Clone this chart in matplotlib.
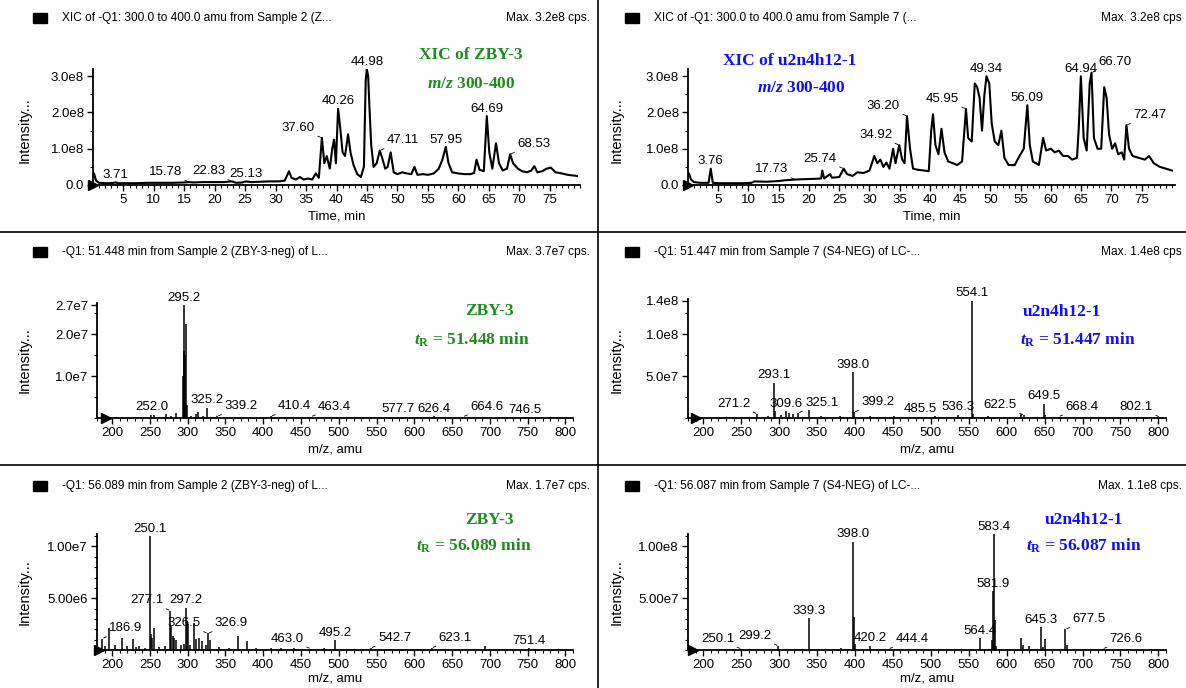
import numpy as np
import matplotlib
matplotlib.use('Agg')
import matplotlib.pyplot as plt
from matplotlib.patches import Rectangle
from matplotlib.lines import Line2D

plt.rcParams['font.family'] = ['Liberation Sans', 'DejaVu Sans']
plt.rcParams['mathtext.fontset'] = 'custom'
plt.rcParams['mathtext.rm'] = 'Liberation Serif:bold'
plt.rcParams['mathtext.it'] = 'Liberation Serif:italic:bold'
plt.rcParams['mathtext.bf'] = 'Liberation Serif:bold'

# ---------------- data ----------------
# XIC, Sample 2 (ZBY-3), intensity in 1e8 cps
tl_time = [0.0, 0.2, 0.5, 1.0, 2.0, 3.0, 3.71, 4.2, 5.5, 7.0, 9.0, 11.0, 13.0, 15.0, 15.78, 16.5,
           18.0, 20.0, 21.5, 22.83, 23.5, 24.5, 25.13, 26.0, 27.5, 29.0, 30.5, 31.5, 32.2, 32.6,
           33.3, 34.0, 34.6, 35.3, 36.0, 36.6, 37.1, 37.6, 38.0, 38.4, 38.9, 39.3, 39.6, 39.9,
           40.26, 40.6, 41.0, 41.4, 41.9, 42.3, 42.8, 43.4, 44.0, 44.5, 44.8, 44.98, 45.2, 45.4,
           45.7, 46.1, 46.6, 47.11, 47.5, 48.0, 48.4, 48.9, 49.4, 50.0, 50.8, 51.5, 52.3, 52.8,
           53.3, 54.2, 55.0, 56.0, 56.8, 57.4, 57.95, 58.4, 59.0, 60.0, 61.0, 62.0, 62.6, 63.0,
           63.5, 64.2, 64.69, 65.1, 65.6, 66.2, 66.7, 67.3, 68.0, 68.53, 69.0, 69.8, 70.5, 71.3,
           72.0, 72.5, 73.0, 73.8, 74.5, 75.2, 76.0, 77.0, 78.0, 79.5]
tl_int = [0.35, 0.30, 0.12, 0.06, 0.05, 0.05, 0.07, 0.05, 0.05, 0.05, 0.06, 0.06, 0.06, 0.07, 0.08, 0.07,
          0.08, 0.08, 0.08, 0.10, 0.06, 0.07, 0.10, 0.08, 0.09, 0.10, 0.10, 0.12, 0.38, 0.20,
          0.15, 0.22, 0.15, 0.18, 0.15, 0.32, 0.20, 1.30, 0.60, 0.80, 0.45, 1.00, 1.25, 0.60,
          2.10, 1.60, 0.90, 0.80, 1.40, 0.90, 0.55, 0.30, 0.22, 0.50, 2.90, 3.20, 3.00, 2.20,
          1.10, 0.50, 0.60, 0.95, 0.75, 0.45, 0.50, 0.90, 0.35, 0.30, 0.35, 0.32, 0.30, 0.50,
          0.28, 0.30, 0.28, 0.32, 0.45, 0.70, 1.05, 0.60, 0.35, 0.32, 0.30, 0.30, 0.33, 0.70,
          0.42, 0.38, 1.90, 0.90, 0.45, 1.15, 0.60, 0.40, 0.45, 0.85, 0.60, 0.45, 0.38, 0.35,
          0.40, 0.52, 0.35, 0.38, 0.45, 0.48, 0.35, 0.32, 0.28, 0.25]

# XIC, Sample 7 (u2n4h12-1), intensity in 1e8 cps
tr_time = [0.0, 0.2, 0.5, 1.0, 2.0, 3.4, 3.76, 4.1, 5.0, 7.0, 9.0, 10.5, 11.0, 13.0, 15.0, 16.0,
           17.73, 19.0, 21.0, 22.0, 22.2, 22.5, 23.5, 23.8, 25.0, 25.74, 26.3, 27.2, 28.0, 29.0,
           30.0, 30.8, 31.3, 31.8, 32.3, 32.8, 33.3, 33.9, 34.3, 34.92, 35.4, 35.8, 36.2, 36.7,
           37.2, 38.0, 39.0, 39.8, 40.2, 40.5, 40.9, 41.4, 41.9, 42.4, 43.0, 43.8, 44.5, 45.3,
           45.95, 46.3, 46.9, 47.4, 47.8, 48.2, 48.6, 49.0, 49.34, 49.8, 50.2, 50.7, 51.3, 51.8,
           52.3, 53.0, 54.0, 54.8, 55.5, 56.09, 56.5, 57.0, 58.0, 58.7, 59.2, 60.0, 60.6, 61.3,
           62.0, 62.8, 63.5, 64.3, 64.6, 64.94, 65.4, 65.9, 66.4, 66.7, 67.1, 67.7, 68.3, 68.8,
           69.2, 69.6, 70.1, 70.6, 71.1, 71.7, 72.1, 72.47, 72.9, 73.5, 74.5, 75.5, 76.2, 77.0,
           78.0, 79.0, 80.0]
tr_int = [0.35, 0.30, 0.15, 0.08, 0.06, 0.06, 0.45, 0.06, 0.05, 0.05, 0.05, 0.06, 0.10, 0.09, 0.11, 0.13,
          0.15, 0.16, 0.17, 0.18, 0.40, 0.18, 0.30, 0.20, 0.22, 0.45, 0.30, 0.25, 0.35, 0.33,
          0.40, 0.80, 0.60, 0.70, 0.50, 0.62, 0.45, 1.00, 0.60, 1.10, 0.70, 0.60, 1.90, 1.00,
          0.45, 0.42, 0.40, 0.38, 1.50, 1.95, 1.10, 0.85, 1.55, 0.90, 0.65, 0.60, 0.55, 0.65,
          2.10, 1.30, 1.20, 2.80, 2.70, 2.40, 1.50, 2.50, 3.00, 2.80, 1.70, 1.20, 1.10, 1.50,
          0.75, 0.55, 0.55, 0.80, 1.00, 2.20, 1.10, 0.65, 0.55, 1.30, 0.95, 1.00, 0.90, 0.95,
          0.80, 0.80, 0.70, 0.75, 1.60, 3.00, 1.30, 0.95, 2.80, 3.10, 1.30, 1.00, 1.00, 2.70,
          2.40, 1.40, 1.00, 1.15, 0.85, 0.90, 0.70, 1.65, 1.00, 0.80, 0.75, 0.70, 0.80, 0.60,
          0.50, 0.45, 0.40]

# spectrum at 51.448 min, Sample 2, intensity in 1e7 cps
ml_mz = [205, 215, 231, 238, 252.0, 255.5, 262, 271, 278, 285, 293.8, 294.5, 295.2, 296.2, 297.2,
         299, 305, 311, 314, 320, 325.2, 339.2, 359, 382, 410.4, 428, 463.4, 497, 533, 577.7,
         601, 626.4, 664.6, 700, 746.5, 780]
ml_int = [0.02, 0.03, 0.02, 0.03, 0.08, 0.07, 0.03, 0.10, 0.04, 0.12, 1.0, 1.6, 2.7, 1.5, 2.25,
          0.30, 0.05, 0.10, 0.15, 0.05, 0.25, 0.04, 0.03, 0.02, 0.04, 0.02, 0.03, 0.02, 0.02, 0.03,
          0.02, 0.05, 0.03, 0.02, 0.02, 0.02]

# spectrum at 51.447 min, Sample 7, intensity in 1e7 cps
mr_mz = [210, 230, 250, 271.2, 285, 293.1, 294.2, 302, 309.6, 313, 318, 325.1, 339.5, 355, 380,
         398.0, 399.2, 420, 452, 485.5, 505, 536.3, 554.1, 555.5, 575, 598, 618.3, 622.5, 649.5,
         651, 668.4, 700, 735, 770, 802.1]
mr_int = [0.05, 0.10, 0.10, 0.50, 0.20, 4.20, 0.80, 0.30, 0.80, 0.60, 0.50, 0.60, 1.00, 0.20, 0.20,
          5.45, 0.70, 0.25, 0.20, 0.15, 0.20, 0.40, 14.0, 0.50, 0.20, 0.15, 0.45, 0.35, 1.70,
          0.30, 0.15, 0.10, 0.15, 0.10, 0.10]

# spectrum at 56.089 min, Sample 2, intensity in 1e6 cps
bl_mz = [186.9, 190, 196, 204, 212.5, 220, 227, 232, 236, 243, 250.1, 251.5, 253, 255.5, 262, 270,
         277.1, 278.5, 280, 282, 284, 291, 295, 297.2, 298.5, 300, 303, 309, 311, 315.5, 319,
         324, 326.9, 329, 341, 355, 367, 378, 390, 410, 424, 441, 463.0, 480, 495.2, 520, 542.7,
         568, 605, 623.1, 655, 693, 751.4, 790]
bl_int = [1.1, 0.4, 2.1, 0.5, 1.2, 0.4, 1.1, 0.3, 0.4, 0.2, 11.0, 1.5, 1.2, 2.1, 0.3, 0.4,
          3.8, 2.3, 1.4, 1.2, 1.0, 0.5, 0.6, 4.1, 2.8, 2.5, 0.5, 2.6, 1.1, 1.2, 0.9,
          0.5, 1.6, 1.0, 0.3, 0.2, 1.35, 0.85, 0.2, 0.15, 0.2, 0.15, 0.12, 0.2, 0.95, 0.1, 0.2,
          0.1, 0.1, 0.2, 0.1, 0.35, 0.15, 0.1]

# spectrum at 56.087 min, Sample 7, intensity in 1e7 cps
br_mz = [250.1, 262, 299.2, 330, 339.3, 360, 381, 398.0, 399.3, 400.5, 420.2, 444.4, 470, 500,
         540, 564.4, 580.5, 581.9, 583.4, 584.6, 586, 618.5, 621, 630, 645.3, 648, 650.5, 677.5,
         679, 700, 726.6, 760, 790]
br_int = [0.10, 0.05, 0.40, 0.10, 3.10, 0.10, 0.20, 10.45, 3.20, 0.60, 0.40, 0.10, 0.05, 0.05,
          0.10, 1.15, 1.00, 5.70, 11.2, 2.90, 0.40, 1.15, 0.50, 0.40, 2.20, 0.30, 1.10, 2.00,
          0.50, 0.10, 0.10, 0.05, 0.05]

# peak labels: (value, placement) c = centred, l = text left + leader, r = text right + leader
tl_labels = [(3.71, 'c'), (15.78, 'l'), (22.83, 'l'), (25.13, 'c'), (37.60, 'l'), (40.26, 'c'),
             (44.98, 'c'), (47.11, 'r'), (57.95, 'c'), (64.69, 'c'), (68.53, 'r')]
tr_labels = [(3.76, 'c'), (17.73, 'l'), (25.74, 'l'), (34.92, 'l'), (36.20, 'l'), (45.95, 'l'),
             (49.34, 'c'), (56.09, 'c'), (64.94, 'c'), (66.70, 'r'), (72.47, 'r')]
ml_labels = [(252.0, 'c'), (295.2, 'c'), (325.2, 'c'), (339.2, 'r'), (410.4, 'r'), (463.4, 'r'),
             (577.7, 'c'), (626.4, 'c'), (664.6, 'r'), (746.5, 'c')]
mr_labels = [(271.2, 'l'), (293.1, 'c'), (309.6, 'c'), (325.1, 'r'), (398.0, 'c'), (399.2, 'r'),
             (485.5, 'c'), (536.3, 'c'), (554.1, 'c'), (622.5, 'l'), (649.5, 'c'), (668.4, 'r'),
             (802.1, 'l')]
bl_labels = [(186.9, 'r'), (250.1, 'c'), (277.1, 'l'), (297.2, 'c'), (326.5, 'l'), (326.9, 'r'),
             (463.0, 'l'), (495.2, 'c'), (542.7, 'r'), (623.1, 'r'), (751.4, 'c')]
br_labels = [(250.1, 'l'), (299.2, 'l'), (339.3, 'c'), (398.0, 'c'), (420.2, 'c'), (444.4, 'r'),
             (564.4, 'c'), (581.9, 'c'), (583.4, 'c'), (645.3, 'c'), (677.5, 'r'), (726.6, 'r')]

headers = [
    ('XIC of -Q1: 300.0 to 400.0 amu from Sample 2 (Z...', 'Max. 3.2e8 cps.'),
    ('XIC of -Q1: 300.0 to 400.0 amu from Sample 7 (...', 'Max. 3.2e8 cps'),
    ('-Q1: 51.448 min from Sample 2 (ZBY-3-neg) of L...', 'Max. 3.7e7 cps.'),
    ('-Q1: 51.447 min from Sample 7 (S4-NEG) of LC-...', 'Max. 1.4e8 cps'),
    ('-Q1: 56.089 min from Sample 2 (ZBY-3-neg) of L...', 'Max. 1.7e7 cps.'),
    ('-Q1: 56.087 min from Sample 7 (S4-NEG) of LC-...', 'Max. 1.1e8 cps.'),
]

# ---------------- layout ----------------
W, H = 1186, 688
GREEN = '#1e8c1e'
BLUE = '#1010f0'
FS = 9.5

fig = plt.figure(figsize=(W / 100, H / 100), dpi=100)


def box(x0, y0, x1, y1):
    return [x0 / W, 1 - y1 / H, (x1 - x0) / W, (y1 - y0) / H]


def setup(ax, xlim, ylim, xmaj, xmin, yt, ylab, ymin, xlabel, lpad=3):
    ax.set_xlim(xlim)
    ax.set_ylim(ylim)
    ax.spines[['top', 'right']].set_visible(False)
    ax.spines[['left', 'bottom']].set_linewidth(1.3)
    ax.set_xticks(xmaj)
    ax.set_xticks(xmin, minor=True)
    ax.set_yticks(yt)
    ax.set_yticklabels(ylab)
    ax.set_yticks(ymin, minor=True)
    ax.tick_params(which='major', direction='out', length=4, width=1, labelsize=FS, pad=2.5)
    ax.tick_params(which='minor', direction='out', length=2, width=0.8)
    ax.set_xlabel(xlabel, fontsize=9.5, labelpad=lpad)
    ax.plot([xlim[0]], [0], marker='>', color='black', markersize=7, clip_on=False)


def label_peaks(ax, specs, lookup, fmt):
    for val, mode in specs:
        y = lookup(val)
        txt = fmt.format(val)
        if mode == 'c':
            ax.annotate(txt, xy=(val, y), xytext=(0, 1), textcoords='offset points',
                        ha='center', va='bottom', fontsize=FS)
        else:
            dx = -5 if mode == 'l' else 5
            ax.annotate(txt, xy=(val, y), xytext=(dx, 3), textcoords='offset points',
                        ha='right' if mode == 'l' else 'left', va='bottom', fontsize=FS,
                        arrowprops=dict(arrowstyle='-', lw=0.6, color='black',
                                        shrinkA=0, shrinkB=1))


def stick_lookup(mz, inten):
    mz = np.asarray(mz)
    return lambda v: inten[int(np.argmin(np.abs(mz - v)))]


def tag(x, y, s, color):
    fig.text(x / W, 1 - y / H, s, color=color, fontsize=12.5, fontweight='bold',
             family='Liberation Serif', ha='center', va='center')


xic_major = np.arange(5, 80, 5)
xic_minor = np.arange(0, 81, 1)
ms_major = np.arange(200, 801, 50)
ms_minor = np.arange(180, 811, 10)

# top left
ax = fig.add_axes(box(93, 69, 580, 185))
ax.plot(tl_time, tl_int, color='black', lw=1.5)
setup(ax, (0, 80), (0, 3.2), xic_major, xic_minor, [0, 1, 2, 3],
      ['0.0', '1.0e8', '2.0e8', '3.0e8'], np.arange(0, 3.2, 0.5), 'Time, min')
label_peaks(ax, tl_labels, lambda v: np.interp(v, tl_time, tl_int), '{:.2f}')
tag(471, 55, 'XIC of ZBY-3', GREEN)
tag(471, 84, r'$m/z$ 300-400', GREEN)

# top right
ax = fig.add_axes(box(688, 69, 1175, 185))
ax.plot(tr_time, tr_int, color='black', lw=1.5)
setup(ax, (0, 80.5), (0, 3.2), xic_major, xic_minor, [0, 1, 2, 3],
      ['0.0', '1.0e8', '2.0e8', '3.0e8'], np.arange(0, 3.2, 0.5), 'Time, min')
label_peaks(ax, tr_labels, lambda v: np.interp(v, tr_time, tr_int), '{:.2f}')
tag(790, 61, 'XIC of u2n4h12-1', BLUE)
tag(801, 88, r'$m/z$ 300-400', BLUE)

# middle left
ax = fig.add_axes(box(97, 303, 573, 418))
ax.vlines(ml_mz, 0, ml_int, color='black', lw=1.1)
setup(ax, (192, 806), (0, 2.75), ms_major, ms_minor, [1, 2, 2.7],
      ['1.0e7', '2.0e7', '2.7e7'], np.arange(0, 2.75, 0.5), 'm/z, amu')
label_peaks(ax, ml_labels, stick_lookup(ml_mz, ml_int), '{:.1f}')
tag(489, 311, 'ZBY-3', GREEN)
tag(472, 340, r'$t_\mathrm{R}$ = 51.448 min', GREEN)

# middle right
ax = fig.add_axes(box(688, 299, 1166, 418))
ax.vlines(mr_mz, 0, mr_int, color='black', lw=1.1)
setup(ax, (191, 808), (0, 14.2), ms_major, ms_minor, [5, 10, 14],
      ['5.0e7', '1.0e8', '1.4e8'], np.arange(0, 14.2, 2.5), 'm/z, amu')
label_peaks(ax, mr_labels, stick_lookup(mr_mz, mr_int), '{:.1f}')
tag(1062, 312, 'u2n4h12-1', BLUE)
tag(1078, 340, r'$t_\mathrm{R}$ = 51.447 min', BLUE)

# bottom left
ax = fig.add_axes(box(97, 534, 573, 650))
ax.vlines(bl_mz, 0, bl_int, color='black', lw=1.1)
setup(ax, (183, 810), (0, 11.2), ms_major, ms_minor, [5, 10],
      ['5.00e6', '1.00e7'], np.arange(0, 11.2, 1), 'm/z, amu', lpad=1)
label_peaks(ax, bl_labels, stick_lookup(bl_mz, bl_int), '{:.1f}')
tag(489, 520, 'ZBY-3', GREEN)
tag(474, 546, r'$t_\mathrm{R}$ = 56.089 min', GREEN)

# bottom right
ax = fig.add_axes(box(688, 534, 1166, 650))
ax.vlines(br_mz, 0, br_int, color='black', lw=1.1)
setup(ax, (186, 808), (0, 11.2), ms_major, ms_minor, [5, 10],
      ['5.00e7', '1.00e8'], np.arange(0, 11.2, 1), 'm/z, amu', lpad=1)
label_peaks(ax, br_labels, stick_lookup(br_mz, br_int), '{:.1f}')
tag(1084, 520, 'u2n4h12-1', BLUE)
tag(1084, 546, r'$t_\mathrm{R}$ = 56.087 min', BLUE)

# panel headers, y-labels and frame lines
rows_y = [18, 252, 486]
ylab_y = [130, 360, 592]
for i, (left, right) in enumerate(headers):
    r, c = divmod(i, 2)
    x0 = 33 if c == 0 else 625
    xr = 590 if c == 0 else 1182
    yc = rows_y[r]
    fig.add_artist(Rectangle((x0 / W, 1 - (yc + 5) / H), 14 / W, 10 / H,
                             transform=fig.transFigure, color='black'))
    fig.text((x0 + 29) / W, 1 - yc / H, left, fontsize=8.6, ha='left', va='center')
    fig.text(xr / W, 1 - yc / H, right, fontsize=8.6, ha='right', va='center')
    fig.text((x0 - 8) / W, 1 - ylab_y[r] / H, 'Intensity...', fontsize=10.5, rotation=90,
             ha='center', va='center')

fig.add_artist(Line2D([598 / W, 598 / W], [0, 1], color='black', lw=1.2,
                      transform=fig.transFigure))
for yl in [232, 465]:
    fig.add_artist(Line2D([0, 1], [1 - yl / H, 1 - yl / H], color='black', lw=1.2,
                          transform=fig.transFigure))

fig.savefig('out.png', dpi=100)
